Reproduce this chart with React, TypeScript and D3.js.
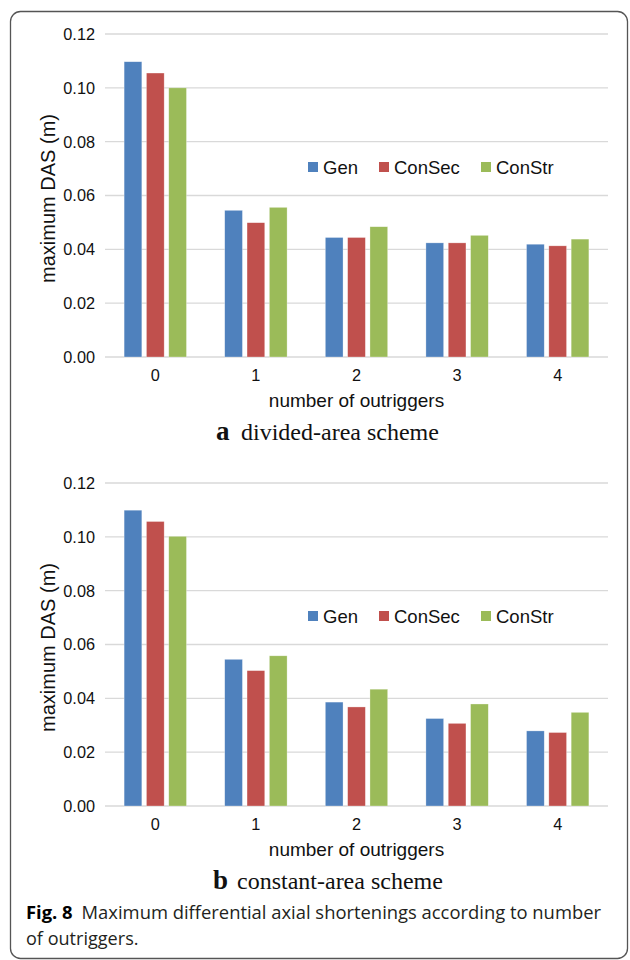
import React, { useEffect, useRef } from "react";
import * as d3 from "d3";

// categories and series
const outriggers = ["0", "1", "2", "3", "4"];
const seriesNames = ["Gen", "ConSec", "ConStr"];
const seriesColors = ["#4F81BD", "#C0504D", "#9BBB59"];
const yTicks = [0, 0.02, 0.04, 0.06, 0.08, 0.1, 0.12];

// (a) divided-area scheme, maximum DAS (m)
const dividedGen = [0.1097, 0.0545, 0.0444, 0.0424, 0.0419];
const dividedConSec = [0.1055, 0.0499, 0.0444, 0.0424, 0.0413];
const dividedConStr = [0.1, 0.0556, 0.0484, 0.0452, 0.0438];

// (b) constant-area scheme, maximum DAS (m)
const constantGen = [0.1099, 0.0545, 0.0386, 0.0325, 0.0279];
const constantConSec = [0.1057, 0.0503, 0.0368, 0.0307, 0.0273];
const constantConStr = [0.1002, 0.0558, 0.0434, 0.0379, 0.0348];

const sans = "'Liberation Sans', Arial, sans-serif";
const serif = "'Liberation Serif', 'Times New Roman', serif";

type Sel = d3.Selection<SVGSVGElement, unknown, null, undefined>;

function drawPanel(svg: Sel, series: number[][], top: number, letter: string, subtitle: string) {
    const x0 = 105, x1 = 608;
    const yTop = top, yBase = top + 323;

    const x = d3.scaleBand<string>()
        .domain(outriggers)
        .range([x0, x1])
        .paddingInner(0.38)
        .paddingOuter(0.19);

    const xs = d3.scaleBand<string>()
        .domain(seriesNames)
        .range([0, x.bandwidth()])
        .paddingInner(0.206);

    const y = d3.scaleLinear().domain([0, 0.12]).range([yBase, yTop]);

    const g = svg.append("g");

    // gridlines
    g.selectAll("line.grid")
        .data(yTicks)
        .join("line")
        .attr("class", "grid")
        .attr("x1", x0)
        .attr("x2", x1)
        .attr("y1", d => y(d))
        .attr("y2", d => y(d))
        .attr("stroke", "#d9d9d9")
        .attr("stroke-width", 1.4);

    // y tick labels
    g.selectAll("text.ytick")
        .data(yTicks)
        .join("text")
        .attr("class", "ytick")
        .attr("x", 95)
        .attr("y", d => y(d))
        .attr("dy", "0.36em")
        .attr("text-anchor", "end")
        .attr("font-family", sans)
        .attr("font-size", 16.3)
        .attr("fill", "#111")
        .text(d => d3.format(".2f")(d));

    // bars
    const groups = g.selectAll("g.group")
        .data(outriggers)
        .join("g")
        .attr("class", "group")
        .attr("transform", d => `translate(${x(d)},0)`);

    groups.selectAll("rect")
        .data((d, i) => seriesNames.map((s, k) => ({ s, k, v: series[k][i] })))
        .join("rect")
        .attr("x", d => xs(d.s) as number)
        .attr("width", xs.bandwidth())
        .attr("y", d => y(d.v))
        .attr("height", d => yBase - y(d.v))
        .attr("fill", d => seriesColors[d.k])
        .attr("stroke", "#ffffff")
        .attr("stroke-opacity", 0.5)
        .attr("stroke-width", 0.6);

    // x tick labels
    g.selectAll("text.xtick")
        .data(outriggers)
        .join("text")
        .attr("class", "xtick")
        .attr("x", d => (x(d) as number) + x.bandwidth() / 2)
        .attr("y", yBase + 24)
        .attr("text-anchor", "middle")
        .attr("font-family", sans)
        .attr("font-size", 16.3)
        .attr("fill", "#111")
        .text(d => d);

    // axis titles
    g.append("text")
        .attr("x", (x0 + x1) / 2)
        .attr("y", yBase + 50)
        .attr("text-anchor", "middle")
        .attr("font-family", sans)
        .attr("font-size", 19)
        .attr("fill", "#111")
        .text("number of outriggers");

    g.append("text")
        .attr("transform", `translate(55,${(yTop + yBase) / 2 + 3}) rotate(-90)`)
        .attr("text-anchor", "middle")
        .attr("font-family", sans)
        .attr("font-size", 20)
        .attr("fill", "#111")
        .text("maximum DAS (m)");

    // legend
    const legendX = [308, 379, 481];
    const leg = g.selectAll("g.legend")
        .data(seriesNames)
        .join("g")
        .attr("class", "legend")
        .attr("transform", (d, i) => `translate(${legendX[i]},${top + 133})`);
    leg.append("rect")
        .attr("x", 0)
        .attr("y", -5)
        .attr("width", 10)
        .attr("height", 10)
        .attr("fill", (d, i) => seriesColors[i]);
    leg.append("text")
        .attr("x", 15)
        .attr("dy", "0.36em")
        .attr("font-family", sans)
        .attr("font-size", 18.5)
        .attr("fill", "#111")
        .text(d => d);

    // sub caption
    const sub = g.append("text")
        .attr("y", yBase + 83)
        .attr("font-family", serif)
        .attr("fill", "#111");
    sub.append("tspan")
        .attr("x", letter === "a" ? 216 : 213)
        .attr("font-weight", "bold")
        .attr("font-size", 27)
        .text(letter);
    sub.append("tspan")
        .attr("x", letter === "a" ? 241 : 237)
        .attr("font-size", 24)
        .text(subtitle);
}

function App() {
    const svgRef = useRef<SVGSVGElement>(null);

    useEffect(() => {
        const svg = d3.select(svgRef.current as SVGSVGElement);
        svg.selectAll("*").remove();

        svg.append("rect")
            .attr("width", 630)
            .attr("height", 960)
            .attr("fill", "#fff");

        // frame
        svg.append("rect")
            .attr("x", 10.5)
            .attr("y", 11.5)
            .attr("width", 617)
            .attr("height", 947)
            .attr("rx", 10)
            .attr("fill", "none")
            .attr("stroke", "#555")
            .attr("stroke-width", 1.3);

        drawPanel(svg, [dividedGen, dividedConSec, dividedConStr], 34, "a", "divided-area scheme");
        drawPanel(svg, [constantGen, constantConSec, constantConStr], 483, "b", "constant-area scheme");

        // figure caption
        const capFont = "'Open Sans', 'Noto Sans', sans-serif";
        const cap = svg.append("text")
            .attr("x", 26)
            .attr("y", 919)
            .attr("font-family", capFont)
            .attr("font-size", 18.5)
            .attr("fill", "#231f20")
            .attr("textLength", 575)
            .attr("lengthAdjust", "spacingAndGlyphs");
        cap.append("tspan")
            .attr("font-weight", "bold")
            .attr("fill", "#000")
            .text("Fig. 8");
        cap.append("tspan")
            .attr("dx", 9)
            .text("Maximum differential axial shortenings according to number");

        svg.append("text")
            .attr("x", 26)
            .attr("y", 945)
            .attr("font-family", capFont)
            .attr("font-size", 18.5)
            .attr("fill", "#231f20")
            .attr("textLength", 112.5)
            .attr("lengthAdjust", "spacingAndGlyphs")
            .text("of outriggers.");
    }, []);

    return (
        <svg
            ref={svgRef}
            width={630}
            height={960}
            style={{ position: "absolute", left: 0, top: 0, display: "block" }}
        />
    );
}

export default App;
